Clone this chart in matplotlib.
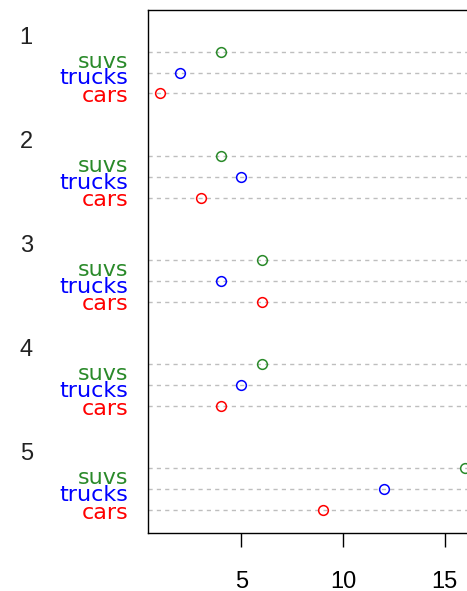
import matplotlib
matplotlib.use("Agg")
import matplotlib.pyplot as plt

groups = ["1", "2", "3", "4", "5"]
items = ["suvs", "trucks", "cars"]
item_colors = {"suvs": "#2A8A2A", "trucks": "blue", "cars": "red"}

suvs = [4, 4, 6, 6, 16]
trucks = [2, 5, 4, 5, 12]
cars = [1, 3, 6, 4, 9]
values = {"suvs": suvs, "trucks": trucks, "cars": cars}

# label baseline offsets (in row units) below each dotted line
label_drop = {"suvs": 0.77, "trucks": 0.57, "cars": 0.42}

plt.rcParams["font.family"] = ["Liberation Sans", "DejaVu Sans"]

fig = plt.figure(figsize=(4.67, 5.91), dpi=100)
ax = fig.add_axes([148 / 467, 58 / 591, (477 - 148) / 467, (533 - 10) / 591])

# layout like R dotchart with groups: each group = label row + 3 items + gap
n_groups = len(groups)
for gi, g in enumerate(groups):
    base = (n_groups - 1 - gi) * 5 + 1  # y of "cars" in this group
    for k, item in enumerate(reversed(items)):
        y = base + k
        ax.axhline(y, color="#BEBEBE", lw=1, ls=(0, (3, 3)), zorder=1)
        ax.plot(values[item][gi], y, marker="o", ms=7, mfc="none",
                mec=item_colors[item], mew=1.1, zorder=3, clip_on=False)
        ax.text(-0.06, y - label_drop[item], item, transform=ax.get_yaxis_transform(),
                ha="right", va="baseline", color=item_colors[item], fontsize=16,
                family="DejaVu Sans")
    ax.text(-0.39, base + 2.38, g, transform=ax.get_yaxis_transform(),
            ha="left", va="baseline", color="#222222", fontsize=17)

ax.set_xlim(0.4, 16.6)
ax.set_ylim(-0.1, 25)
ax.set_xticks([5, 10, 15])
ax.set_yticks([])
ax.tick_params(axis="x", length=10, width=1, pad=17, labelsize=17)
for s in ax.spines.values():
    s.set_linewidth(1)

fig.savefig("out.png", dpi=100)
